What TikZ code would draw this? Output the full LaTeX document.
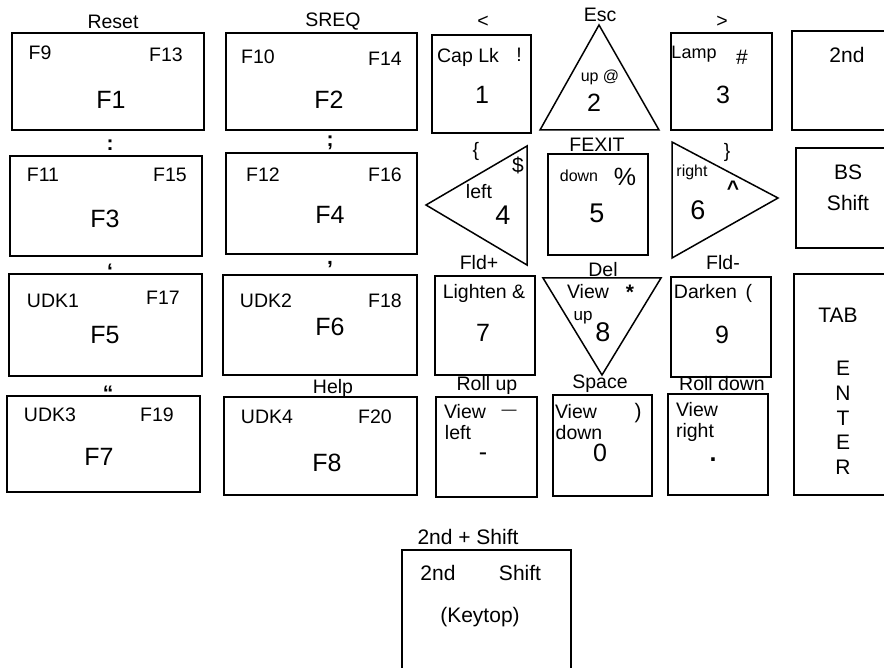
\documentclass[tikz,border=0pt]{standalone}
\usepackage{fontspec}
\setmainfont{Liberation Sans}
\newcommand\kbox[5]{\node[keyb,minimum width={#4-#2},minimum height={#5-#3}] (#1) at ({(#2+#4)/2},{(#3+#5)/2}) {};}
\begin{document}
\begin{tikzpicture}[x=1pt,y=-1pt,
  keyb/.style={draw,line width=1.5pt,inner sep=0pt},
  tri/.style={draw,line width=1.5pt,line join=miter},
  lbl/.style={inner sep=0pt,font=\fontsize{19.5}{22}\selectfont},
  sml/.style={inner sep=0pt,font=\fontsize{16}{18}\selectfont},
  mid/.style={inner sep=0pt,font=\fontsize{21}{24}\selectfont},
  big/.style={inner sep=0pt,font=\fontsize{25}{28}\selectfont},
  bigg/.style={inner sep=0pt,font=\fontsize{27}{30}\selectfont},
  pun/.style={inner sep=0pt,font=\fontsize{21}{24}\selectfont\bfseries}]
\useasboundingbox (0,0) rectangle (884,668);
% ---------- Row 1
\node[lbl] (reset) at (113,22) {Reset};
\node[lbl] (sreq) at (333,22) {SREQ};
\node[lbl] (lt) at (483,22) {<};
\node[lbl] (esc) at (600,15) {Esc};
\node[lbl] (gt) at (722,22) {>};
\kbox{f1}{12}{33}{204}{130}
\node[lbl] (f9) at (40,53) {F9};
\node[lbl] (f13) at (166,55) {F13};
\node[big] (f1t) at (111,100) {F1};
\kbox{f2}{226}{33}{417}{130}
\node[lbl] (f10) at (258,57) {F10};
\node[lbl] (f14) at (385,59) {F14};
\node[big] (f2t) at (329,100) {F2};
\kbox{k1}{432}{35}{531}{133}
\node[lbl] (caplk) at (468,57) {Cap Lk};
\node[lbl] (excl) at (519,55) {!};
\node[big] (k1t) at (482,95) {1};
\coordinate (t2a) at (599,25);
\coordinate (t2b) at (540,130);
\coordinate (t2c) at (659,130);
\draw[tri] (t2a) -- (t2b) -- (t2c) -- cycle;
\node[sml] (upat) at (600,77) {up @};
\node[big] (k2t) at (594,103) {2};
\kbox{k3}{671}{33}{772}{130}
\node[inner sep=0pt,font=\fontsize{18}{20}\selectfont] (lamp) at (694,54) {Lamp};
\node[mid] (hash) at (742,57) {\#};
\node[big] (k3t) at (723,95) {3};
\kbox{k2nd}{792}{31}{892}{130}
\node[mid] (snd) at (847,55) {2nd};
% ---------- Row 2
\node[pun] (colon) at (110,145) {:};
\node[pun] (semi) at (330,143) {;};
\kbox{f3}{10}{156}{202}{256}
\node[lbl] (f11) at (43,175) {F11};
\node[lbl] (f15) at (170,175) {F15};
\node[big] (f3t) at (105,219) {F3};
\kbox{f4}{226}{153}{417}{254}
\node[lbl] (f12) at (263,175) {F12};
\node[lbl] (f16) at (385,175) {F16};
\node[big] (f4t) at (330,215) {F4};
\coordinate (t4a) at (426,205);
\coordinate (t4b) at (527,146);
\coordinate (t4c) at (527,265);
\draw[tri] (t4a) -- (t4b) -- (t4c) -- cycle;
\node[lbl] (lbrace) at (476,151) {\{};
\node[mid] (dollar) at (518,165) {\$};
\node[lbl] (left4) at (479,192) {left};
\node[bigg] (k4t) at (503,215) {4};
\node[lbl] (fldp) at (479,263) {Fld+};
\kbox{k5}{548}{154}{648}{255}
\node[lbl] (fexit) at (597,145) {FEXIT};
\node[sml] (down5) at (579,176) {down};
\node[big] (pct) at (625,177) {\%};
\node[bigg] (k5t) at (597,213) {5};
\coordinate (t6a) at (672,142);
\coordinate (t6b) at (672,258);
\coordinate (t6c) at (778,198);
\draw[tri] (t6a) -- (t6b) -- (t6c) -- cycle;
\node[lbl] (rbrace) at (727,152) {\}};
\node[sml] (right6) at (692,172) {right};
\node[pun] (caret) at (733,188) {\^{}};
\node[bigg] (k6t) at (698,210) {6};
\node[lbl] (fldm) at (723,263) {Fld-};
\kbox{kbs}{796}{148}{892}{248}
\node[mid] (bs) at (848,172) {BS};
\node[mid] (shiftbs) at (848,203) {Shift};
% ---------- Row 3
\node[pun] (lq) at (110,271) {‘};
\node[pun] (comma) at (330,265) {,};
\kbox{f5}{9}{274}{202}{376}
\node[lbl] (udk1) at (53,301) {UDK1};
\node[lbl] (f17) at (163,298) {F17};
\node[big] (f5t) at (105,335) {F5};
\kbox{f6}{223}{275}{417}{375}
\node[lbl] (udk2) at (266,301) {UDK2};
\node[lbl] (f18) at (385,301) {F18};
\node[big] (f6t) at (330,327) {F6};
\kbox{k7}{435}{276}{535}{375}
\node[lbl] (lighten) at (484,293) {Lighten \&};
\node[big] (k7t) at (483,333) {7};
\node[lbl] (del) at (603,270) {Del};
\coordinate (t8a) at (543,278);
\coordinate (t8b) at (661,278);
\coordinate (t8c) at (602,375);
\draw[tri] (t8a) -- (t8b) -- (t8c) -- cycle;
\node[lbl] (view8) at (588,292) {View};
\node[pun] (star) at (630,292) {*};
\node[inner sep=0pt,font=\fontsize{17}{20}\selectfont] (up8) at (583,318) {up};
\node[bigg] (k8t) at (603,332) {8};
\kbox{k9}{671}{277}{771}{377}
\node[lbl] (darken) at (713,293) {Darken \,(};
\node[big] (k9t) at (722,335) {9};
\kbox{kent}{794}{274}{892}{495}
\node[mid] (tab) at (838,315) {TAB};
\node[mid] (e1) at (843,368) {E};
\node[mid] (n1) at (843,393) {N};
\node[mid] (t1) at (843,418) {T};
\node[mid] (e2) at (843,442) {E};
\node[mid] (r1) at (843,467) {R};
% ---------- Row 4
\node[pun] (ldq) at (108,393) {“};
\node[lbl] (help) at (333,388) {Help};
\kbox{f7}{7}{396}{200}{492}
\node[lbl] (udk3) at (50,415) {UDK3};
\node[lbl] (f19) at (157,415) {F19};
\node[big] (f7t) at (99,457) {F7};
\kbox{f8}{224}{397}{417}{495}
\node[lbl] (udk4) at (267,417) {UDK4};
\node[lbl] (f20) at (375,417) {F20};
\node[big] (f8t) at (327,463) {F8};
\node[lbl] (rollup) at (487,385) {Roll up};
\node[lbl] (space) at (600,384) {Space};
\node[lbl] (rolldown) at (722,384) {Roll down};
\kbox{kmin}{436}{397}{537}{497}
\node[lbl] (viewl) at (465,412) {View};
\node[inner sep=0pt,font=\fontsize{15}{18}\selectfont] (dash) at (509,412) {—};
\node[lbl] (leftl) at (458,433) {left};
\node[big] (mint) at (483,457) {-};
\kbox{k0}{553}{395}{652}{496}
\node[lbl] (viewd) at (576,412) {View};
\node[mid] (rpar) at (638,413) {)};
\node[lbl] (downd) at (579,433) {down};
\node[big] (k0t) at (600,453) {0};
\kbox{kdot}{668}{394}{768}{495}
\node[lbl] (viewr) at (697,410) {View};
\node[lbl] (rightr) at (695,432) {right};
\node[big,font=\fontsize{25}{28}\selectfont\bfseries] (dott) at (713,460) {.};
% ---------- Legend
\node[mid] (legend) at (468,537) {2nd + Shift};
\kbox{kleg}{402}{550}{571}{675}
\node[mid] (l2nd) at (438,573) {2nd};
\node[mid] (lshift) at (520,573) {Shift};
\node[mid] (keytop) at (480,617) {(Keytop)};
\end{tikzpicture}
\end{document}
